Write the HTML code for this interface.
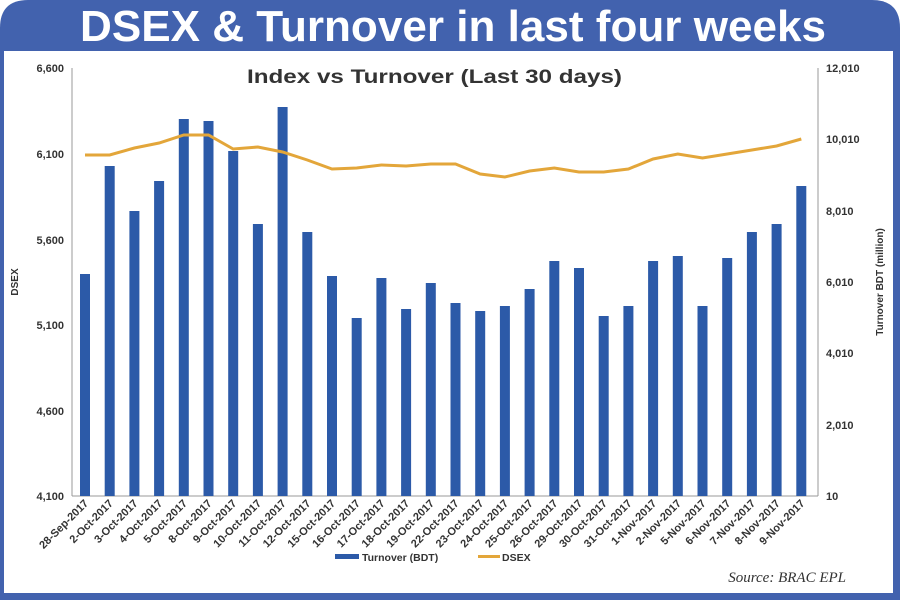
<!DOCTYPE html>
<html><head><style>
body{margin:0;width:900px;height:600px;background:#fff;overflow:hidden}
</style></head><body>
<svg width="900" height="600" xmlns="http://www.w3.org/2000/svg" font-family="Liberation Sans, sans-serif">
<path d="M0,600 V28 Q0,0 28,0 H872 Q900,0 900,28 V600 Z" fill="#4262AE"/>
<rect x="4" y="51" width="889" height="542" fill="#fff"/>
<text x="80" y="41" font-size="44" font-weight="bold" fill="#fff" textLength="746" lengthAdjust="spacingAndGlyphs">DSEX &amp; Turnover in last four weeks</text>
<text x="247" y="83" font-size="19" font-weight="bold" fill="#333" textLength="375" lengthAdjust="spacingAndGlyphs">Index vs Turnover (Last 30 days)</text>
<g stroke="#999" stroke-width="1">
<line x1="72" y1="68" x2="72" y2="496"/><line x1="818" y1="68" x2="818" y2="496"/><line x1="72" y1="496" x2="818" y2="496"/>
</g>
<g font-size="11" font-weight="bold" fill="#333" text-anchor="end">
<text x="64" y="72">6,600</text><text x="64" y="158">6,100</text><text x="64" y="244">5,600</text><text x="64" y="329">5,100</text><text x="64" y="415">4,600</text><text x="64" y="500">4,100</text>
</g>
<g font-size="11" font-weight="bold" fill="#333">
<text x="826" y="72">12,010</text><text x="826" y="143">10,010</text><text x="826" y="215">8,010</text><text x="826" y="286">6,010</text><text x="826" y="357">4,010</text><text x="826" y="429">2,010</text><text x="826" y="500">10</text>
</g>
<text transform="translate(18,282) rotate(-90)" font-size="10" font-weight="bold" fill="#333" text-anchor="middle">DSEX</text>
<text transform="translate(883,282) rotate(-90)" font-size="10" font-weight="bold" fill="#333" text-anchor="middle">Turnover BDT (million)</text>
<g fill="#2C5AA8" id="bars"></g>
<polyline id="ln" fill="none" stroke="#E3A63A" stroke-width="3"/>
<g id="lbl" font-size="11" font-weight="bold" fill="#333"></g>
<rect x="335" y="554" width="24" height="5" fill="#2C5AA8"/>
<text x="362" y="561" font-size="10.5" font-weight="bold" fill="#333">Turnover (BDT)</text>
<rect x="478" y="555" width="22" height="3" fill="#E3A63A"/>
<text x="502" y="561" font-size="10.5" font-weight="bold" fill="#333">DSEX</text>
<text x="846" y="582" text-anchor="end" font-size="15" font-style="italic" font-family="Liberation Serif, serif" fill="#333">Source: BRAC EPL</text>
</svg>
<script>
var tops=[274,166,211,181,119,121,151,224,107,232,276,318,278,309,283,303,311,306,289,261,268,316,306,261,256,306,258,232,224,186];
var ly=[155,155,148,143,135,135,149,147,152,160,169,168,165,166,164,164,174,177,171,168,172,172,169,159,154,158,154,150,146,139];
var labs=["28-Sep-2017","2-Oct-2017","3-Oct-2017","4-Oct-2017","5-Oct-2017","8-Oct-2017","9-Oct-2017","10-Oct-2017","11-Oct-2017","12-Oct-2017","15-Oct-2017","16-Oct-2017","17-Oct-2017","18-Oct-2017","19-Oct-2017","22-Oct-2017","23-Oct-2017","24-Oct-2017","25-Oct-2017","26-Oct-2017","29-Oct-2017","30-Oct-2017","31-Oct-2017","1-Nov-2017","2-Nov-2017","5-Nov-2017","6-Nov-2017","7-Nov-2017","8-Nov-2017","9-Nov-2017"];
var ns="http://www.w3.org/2000/svg",b=document.getElementById("bars"),l=document.getElementById("lbl"),pts=[];
for(var i=0;i<30;i++){var c=85+24.7*i;
var r=document.createElementNS(ns,"rect");r.setAttribute("x",c-5);r.setAttribute("y",tops[i]);r.setAttribute("width",10);r.setAttribute("height",496-tops[i]);b.appendChild(r);
pts.push(c+","+ly[i]);
var t=document.createElementNS(ns,"text");t.setAttribute("text-anchor","end");t.setAttribute("transform","translate("+(c+4)+",504) rotate(-45)");t.textContent=labs[i];l.appendChild(t);}
document.getElementById("ln").setAttribute("points",pts.join(" "));
</script>
</body></html>
